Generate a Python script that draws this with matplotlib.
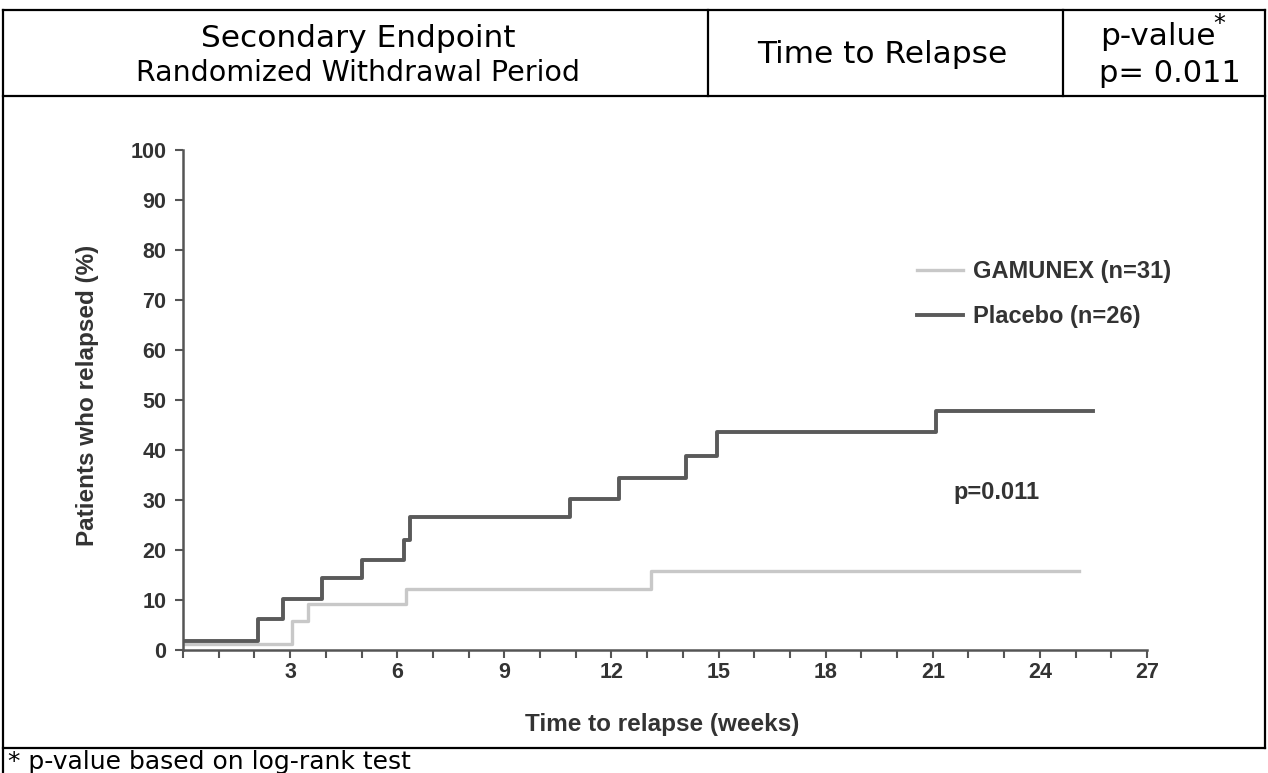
import matplotlib
matplotlib.use("Agg")
import matplotlib.pyplot as plt
from matplotlib.lines import Line2D

W, H = 1268, 773

# data (weeks, % relapsed)
placebo_t = [0, 2.1, 2.8, 3.9, 5.0, 6.2, 6.35, 10.85, 12.2, 14.1, 14.95, 21.1, 25.5]
placebo_pct = [1.8, 6.2, 10.2, 14.4, 18.0, 22.0, 26.6, 30.2, 34.5, 38.8, 43.6, 47.8, 47.8]
gamunex_t = [0, 3.05, 3.5, 6.25, 13.1, 25.1]
gamunex_pct = [1.2, 5.8, 9.2, 12.2, 15.8, 15.8]

x_ticks = [3, 6, 9, 12, 15, 18, 21, 24, 27]
y_ticks = [0, 10, 20, 30, 40, 50, 60, 70, 80, 90, 100]
labels = ["GAMUNEX (n=31)", "Placebo (n=26)"]


def fx(x):
    return x / W


def fy(y):
    return 1 - y / H


fig = plt.figure(figsize=(W / 100, H / 100), dpi=100)
fig.patch.set_facecolor("white")


# table borders
def hline(y, x0, x1):
    fig.add_artist(Line2D([fx(x0), fx(x1)], [fy(y), fy(y)], color="black", lw=1.6))


def vline(x, y0, y1):
    fig.add_artist(Line2D([fx(x), fx(x)], [fy(y0), fy(y1)], color="black", lw=1.6))


hline(10, 3, 1265)
hline(96, 3, 1265)
hline(748, 3, 1265)
vline(3, 10, 773)
vline(1265, 10, 748)
vline(708, 10, 96)
vline(1063, 10, 96)

hfont = dict(family="DejaVu Sans", color="black")
fig.text(fx(358), fy(47), "Secondary Endpoint", ha="center", va="baseline", fontsize=22.5, **hfont)
fig.text(fx(358), fy(81), "Randomized Withdrawal Period", ha="center", va="baseline", fontsize=20.5, **hfont)
fig.text(fx(882), fy(63), "Time to Relapse", ha="center", va="baseline", fontsize=22.5, **hfont)
fig.text(fx(1100), fy(45), "p-value", ha="left", va="baseline", fontsize=22.5, **hfont)
fig.text(fx(1219), fy(24), "*", ha="center", va="center", fontsize=17, **hfont)
fig.text(fx(1099), fy(82), "p= 0.011", ha="left", va="baseline", fontsize=22, **hfont)
fig.text(fx(8), fy(762), "* p-value based on log-rank test", ha="left", va="center",
         fontsize=18, **hfont)

# plot area
ax = fig.add_axes([fx(183), fy(650), fx(1147) - fx(183), (650 - 150) / H])
ax.step(gamunex_t, gamunex_pct, where="post", color="#c8c8c8", lw=2.4, label=labels[0])
ax.step(placebo_t, placebo_pct, where="post", color="#5a5a5a", lw=2.8, label=labels[1])

ax.set_xlim(0, 27)
ax.set_ylim(0, 100)
ax.set_xticks(x_ticks)
ax.set_xticks(range(0, 28), minor=True)
ax.set_yticks(y_ticks)
for s in ["top", "right"]:
    ax.spines[s].set_visible(False)
for s in ["left", "bottom"]:
    ax.spines[s].set_color("#555555")
    ax.spines[s].set_linewidth(1.8)
ax.tick_params(axis="both", which="both", direction="out", color="#555555", width=1.5)
ax.tick_params(axis="x", which="both", length=6, pad=3)
ax.tick_params(axis="y", length=6, pad=6)

tfont = dict(family="Liberation Sans", weight="bold", color="#333333")
for lab in ax.get_xticklabels() + ax.get_yticklabels():
    lab.set_fontfamily("Liberation Sans")
    lab.set_fontweight("bold")
    lab.set_fontsize(15.5)
    lab.set_color("#333333")

fig.text(fx(662), fy(724), "Time to relapse (weeks)", ha="center", va="center",
         fontsize=17.5, **tfont)
fig.text(fx(88), fy(395), "Patients who relapsed (%)", ha="center", va="center",
         rotation=90, fontsize=17.5, **tfont)

leg = ax.legend(loc="upper left", bbox_to_anchor=(fx(917), fy(260)),
                bbox_transform=fig.transFigure, frameon=False, borderpad=0,
                borderaxespad=0, handlelength=1.95, handletextpad=0.42,
                labelspacing=0.95, prop=dict(family="Liberation Sans", weight="bold", size=17))
for t in leg.get_texts():
    t.set_color("#333333")

fig.text(fx(997), fy(492), "p=0.011", ha="center", va="center", fontsize=17, **tfont)

fig.savefig("out.png", dpi=100)
